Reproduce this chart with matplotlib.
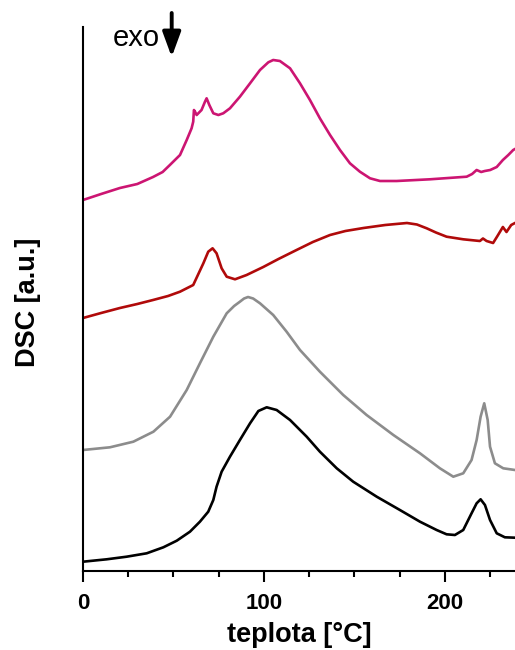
import matplotlib
matplotlib.use("Agg")
import matplotlib.pyplot as plt  # noqa: E402
from matplotlib.ticker import MultipleLocator  # noqa: E402

plt.rcParams["font.family"] = ["Liberation Sans", "DejaVu Sans"]

# DSC traces, temperature [degC] vs signal [a.u.]
black_t = [0, 13.1, 24.1, 35.2, 44.4, 51.8, 59.1, 64.6, 69.2, 72, 73.8, 76.6, 81.2, 86.7,
           92.3, 96.9, 101.5, 107, 114.4, 123.6, 130.9, 140.2, 149.3, 162.3, 175.1, 186.2,
           195.4, 200.9, 205.5, 210.1, 214.7, 217.5, 219.7, 222.1, 224.9, 228.6, 233.1, 238.7]
black_y = [9.3, 11.7, 14.3, 17.7, 23.7, 30.3, 39.3, 49.3, 59.3, 71, 84.3, 99.3, 114.3, 131,
           147.7, 160, 163.7, 161, 151, 134.3, 119.3, 102.7, 89.3, 74.3, 61, 49.3,
           41, 36.7, 36, 41, 57.7, 67.7, 71.7, 66, 51, 37.7, 33.7, 33.3]

gray_t = [0, 14.9, 27.8, 38.9, 48.1, 57.3, 64.6, 72, 79.4, 83.5, 86.7, 89, 91.2, 94, 97.8,
          105.1, 112.5, 119.9, 130.9, 143.8, 156.7, 171.5, 186.2, 197.2, 204.6, 210.1, 214.7,
          217.5, 219.7, 221.7, 223.6, 224.9, 227.6, 232.2, 238.7]
gray_y = [121, 123.7, 129.3, 139.3, 154.3, 181, 207.7, 234.3, 257.7, 265, 269.3, 272.5, 274,
          272.5, 267.7, 256, 239.3, 221, 199.3, 176, 156, 136, 117.7, 102.7, 94.3, 97.7, 111,
          131, 154.3, 167.7, 151, 124.3, 107.7, 102.7, 101]

red_t = [0, 10, 20.4, 30, 38.7, 47, 53.6, 60.9, 66.5, 69.2, 71.6, 73.8, 76.6, 79.4, 84,
         90.4, 99.6, 108, 118, 127, 136.5, 145, 155, 167, 179, 184.5, 189.9, 195, 200.9,
         210.1, 219.3, 221, 223, 226.6, 229, 232, 234, 236.6, 238.7]
red_y = [253, 258, 263, 267, 271, 275, 279.3, 286, 307.7, 319.3, 322.7, 317.7, 302.7, 294.3,
         291.7, 296, 304, 312, 321, 329, 336, 340, 343, 346, 348, 346.5, 342.7, 338.5, 334.3,
         331.7, 330, 332.5, 330, 328, 335, 344, 339, 346, 348]

pink_t = [0, 10, 20.4, 30, 38.7, 44, 48, 53.6, 57.3, 60, 60.9, 61.3, 61.9, 62.8, 65.5, 67.4,
          68.3, 69.8, 72, 74.8, 77.5, 81.2, 86.7, 92.3, 97.8, 102.4, 105.1, 108.8, 114.4,
          119.9, 125.4, 130.9, 136.5, 142, 147.5, 153, 158.6, 164.1, 173.3, 191.7, 212,
          215, 217.5, 220, 222, 225, 228.6, 232, 235, 237.7, 238.7]
pink_y = [371, 377, 383, 387, 394, 399, 406, 416, 431, 442.7, 449.3, 461, 459.3, 456, 461,
          469.3, 472.7, 466, 457.7, 456, 457.7, 462.7, 474.3, 487.7, 501, 508.7, 511, 510,
          502.7, 487.7, 471, 452.7, 436, 421, 407.7, 399.3, 392.7, 390, 390, 391.7, 394.3,
          397, 401, 399, 400, 401, 404, 411, 416, 421, 422]

fig = plt.figure(figsize=(5.15, 6.5), dpi=100)
ax = fig.add_axes([83 / 515, 79 / 650, 432 / 515, 544 / 650])

lw = 1.9
ax.plot(black_t, black_y, color="black", lw=lw)
ax.plot(gray_t, gray_y, color="#8c8c8c", lw=lw)
ax.plot(red_t, red_y, color="#b00a0a", lw=lw)
ax.plot(pink_t, pink_y, color="#cc1572", lw=lw)

ax.set_xlim(0, 238.7)
ax.set_ylim(0, 544)
for s in ["top", "right"]:
    ax.spines[s].set_visible(False)
for s in ["left", "bottom"]:
    ax.spines[s].set_linewidth(1.5)

ax.set_yticks([])
ax.xaxis.set_major_locator(MultipleLocator(100))
ax.xaxis.set_minor_locator(MultipleLocator(25))
ax.tick_params(axis="x", which="major", length=8, width=1.5, pad=7.5,
               labelsize=16)
ax.tick_params(axis="x", which="minor", length=4.5, width=1.5)
for lab in ax.get_xticklabels():
    lab.set_fontweight("bold")

ax.set_xlabel("teplota [°C]", fontsize=19.5, fontweight="bold")
ax.xaxis.set_label_coords(0.501, -0.094)
ax.set_ylabel("DSC [a.u.]", fontsize=19.5, fontweight="bold")
ax.yaxis.label.set_verticalalignment("center")
ax.yaxis.set_label_coords(-0.127, 0.494)

fig.text(136 / 515, 1 - 38 / 650, "exo", fontsize=21, ha="center", va="center")
ax.annotate("", xy=(171.7 / 515, 1 - 57 / 650), xytext=(171.7 / 515, 1 - 13 / 650),
            xycoords="figure fraction", textcoords="figure fraction",
            arrowprops=dict(arrowstyle="-|>,head_length=1.5,head_width=0.55",
                            lw=2.8, color="black", shrinkA=0, shrinkB=0,
                            mutation_scale=10))

fig.savefig("out.png", dpi=100)
